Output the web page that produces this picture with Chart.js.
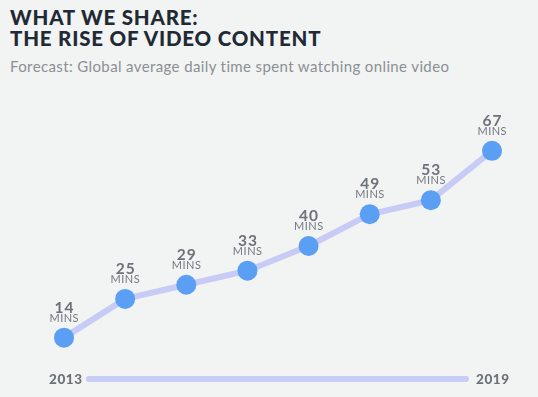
<!DOCTYPE html>
<html>
<head>
<meta charset="utf-8">
<script src="https://cdn.jsdelivr.net/npm/chart.js@4.4.1/dist/chart.umd.min.js"></script>
<style>
  html, body { margin:0; padding:0; background:#f2f3f3; }
  #wrap { position:relative; width:538px; height:397px; overflow:hidden; background:#f2f3f3; }
  #title { position:absolute; left:10px; top:7px; margin:0; font-family:Lato, sans-serif; font-weight:900; font-size:20.5px; line-height:21px; color:#1f2a35; letter-spacing:0.8px; }
  #sub { position:absolute; left:10px; top:57px; margin:0; font-family:Lato, sans-serif; font-weight:400; font-size:15px; color:#8b9095; letter-spacing:0.38px; }
  canvas { position:absolute; left:0; top:0; }
</style>
</head>
<body>
<div id="wrap">
  <h1 id="title">WHAT WE SHARE:<br>THE RISE OF VIDEO CONTENT</h1>
  <p id="sub">Forecast: Global average daily time spent watching online video</p>
  <canvas id="c" width="538" height="397"></canvas>
</div>
<script>
const years = ["2013", "2014", "2015", "2016", "2017", "2018", "2019"];
const categories = ["2012", "2013", "2014", "2015", "2016", "2017", "2018", "2019"];
const minutes = [14, 25, 29, 33, 40, 49, 53, 67];
const unitLabel = "MINS";

const labelPlugin = {
  id: 'labels',
  afterDatasetsDraw(chart) {
    const ctx = chart.ctx;
    const meta = chart.getDatasetMeta(0);
    ctx.save();
    ctx.textAlign = 'center';
    ctx.textBaseline = 'alphabetic';
    meta.data.forEach((pt, i) => {
      ctx.fillStyle = '#6c7279';
      ctx.font = '700 15.5px Lato, sans-serif';
      ctx.letterSpacing = '1px';
      ctx.fillText(String(minutes[i]), pt.x + 0.5, pt.y - 25);
      ctx.font = '400 11px Lato, sans-serif';
      ctx.letterSpacing = '0.5px';
      ctx.fillStyle = '#737980';
      ctx.fillText(unitLabel, pt.x + 0.25, pt.y - 16);
    });
    ctx.restore();
  }
};

const axisPlugin = {
  id: 'timeline',
  afterDraw(chart) {
    const ctx = chart.ctx;
    const y = 379;
    ctx.save();
    ctx.strokeStyle = '#c9ccf4';
    ctx.lineWidth = 6;
    ctx.lineCap = 'round';
    ctx.beginPath();
    ctx.moveTo(89, y);
    ctx.lineTo(466, y);
    ctx.stroke();
    ctx.fillStyle = '#6c7279';
    ctx.font = '900 13.5px Lato, sans-serif';
    ctx.letterSpacing = '0.6px';
    ctx.textBaseline = 'middle';
    ctx.textAlign = 'left';
    ctx.fillText(years[0], 49, y + 1);
    ctx.fillText(years[years.length - 1], 476, y + 1);
    ctx.restore();
  }
};

new Chart(document.getElementById('c'), {
  type: 'line',
  data: {
    labels: categories,
    datasets: [{
      data: minutes,
      borderColor: '#c7cbf5',
      borderWidth: 6,
      pointBackgroundColor: '#5a9ff4',
      pointBorderColor: '#5a9ff4',
      pointBorderWidth: 0,
      pointRadius: 10,
      tension: 0,
      fill: false
    }]
  },
  options: {
    responsive: false,
    animation: false,
    layout: { padding: { left: 64, right: 46, top: 105, bottom: 10 } },
    plugins: { legend: { display: false }, tooltip: { enabled: false } },
    scales: {
      x: { display: false, offset: false },
      y: { display: false, min: 0, max: 80 }
    }
  },
  plugins: [labelPlugin, axisPlugin]
});
</script>
</body>
</html>
